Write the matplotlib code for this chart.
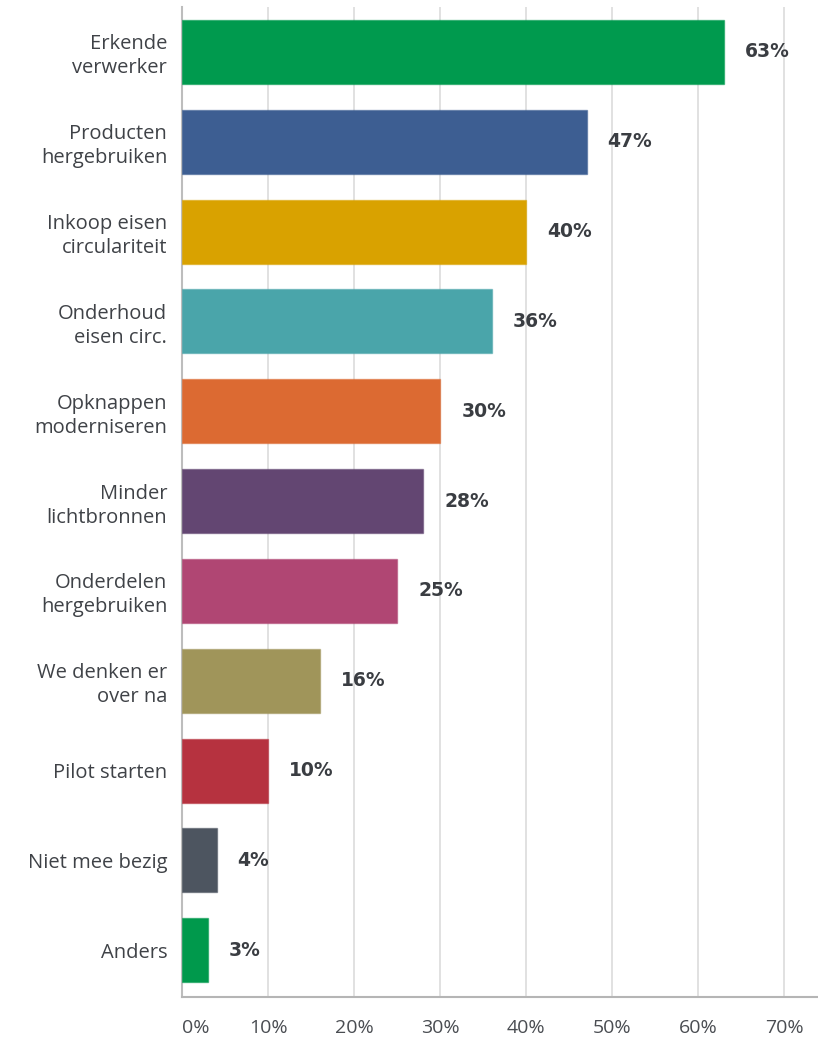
import matplotlib
matplotlib.use("Agg")
import matplotlib.pyplot as plt
import numpy as np

categories = [
    "Erkende\nverwerker",
    "Producten\nhergebruiken",
    "Inkoop eisen\ncirculariteit",
    "Onderhoud\neisen circ.",
    "Opknappen\nmoderniseren",
    "Minder\nlichtbronnen",
    "Onderdelen\nhergebruiken",
    "We denken er\nover na",
    "Pilot starten",
    "Niet mee bezig",
    "Anders",
]
values = [63, 47, 40, 36, 30, 28, 25, 16, 10, 4, 3]
bar_colors = [
    "#009a4e", "#3d5e92", "#d9a200", "#4aa5aa", "#dc6a32", "#634672",
    "#b04673", "#a0955a", "#b6323f", "#4d5560", "#00994c",
]
x_ticks = [0, 10, 20, 30, 40, 50, 60, 70]
x_tick_labels = [f"{t}%" for t in x_ticks]

plt.rcParams["font.family"] = ["Open Sans", "DejaVu Sans"]

fig = plt.figure(figsize=(8.18, 10.39), dpi=100)
ax = fig.add_axes([0.223, 0.0404, 0.7758, 0.9529])

y = np.arange(len(categories))
ax.barh(y, values, height=0.712, color=bar_colors,
        edgecolor=[matplotlib.colors.to_rgba(c, 0.55) for c in bar_colors],
        linewidth=1.0, zorder=3)

for yi, v in zip(y, values):
    ax.annotate(f"{v}%", xy=(v, yi), xytext=(15, 0), textcoords="offset points",
                ha="left", va="center", fontsize=13.5, fontweight="bold",
                family=["DejaVu Sans"], color="#3a3d42", zorder=4)

ax.set_xlim(0, 73.8)
ax.set_ylim(10.52, -0.5)

ax.set_xticks(x_ticks)
ax.set_xticklabels(x_tick_labels, fontsize=14, color="#4a4d52")
ax.get_xticklabels()[0].set_horizontalalignment("left")
ax.set_yticks(y)
ax.set_yticklabels(categories, fontsize=14.5, color="#3f4247", linespacing=1.27)

ax.tick_params(axis="x", length=0, pad=16)
ax.tick_params(axis="y", length=0, pad=11)

ax.grid(axis="x", color="#dedede", linewidth=1.3, zorder=0)
ax.grid(axis="y", visible=False)

for side in ("top", "right"):
    ax.spines[side].set_visible(False)
ax.spines["left"].set_color("#bdbdbd")
ax.spines["left"].set_linewidth(1.5)
ax.spines["bottom"].set_color("#b5b5b5")
ax.spines["bottom"].set_linewidth(1.5)

fig.savefig("out.png", dpi=100, facecolor="white")
